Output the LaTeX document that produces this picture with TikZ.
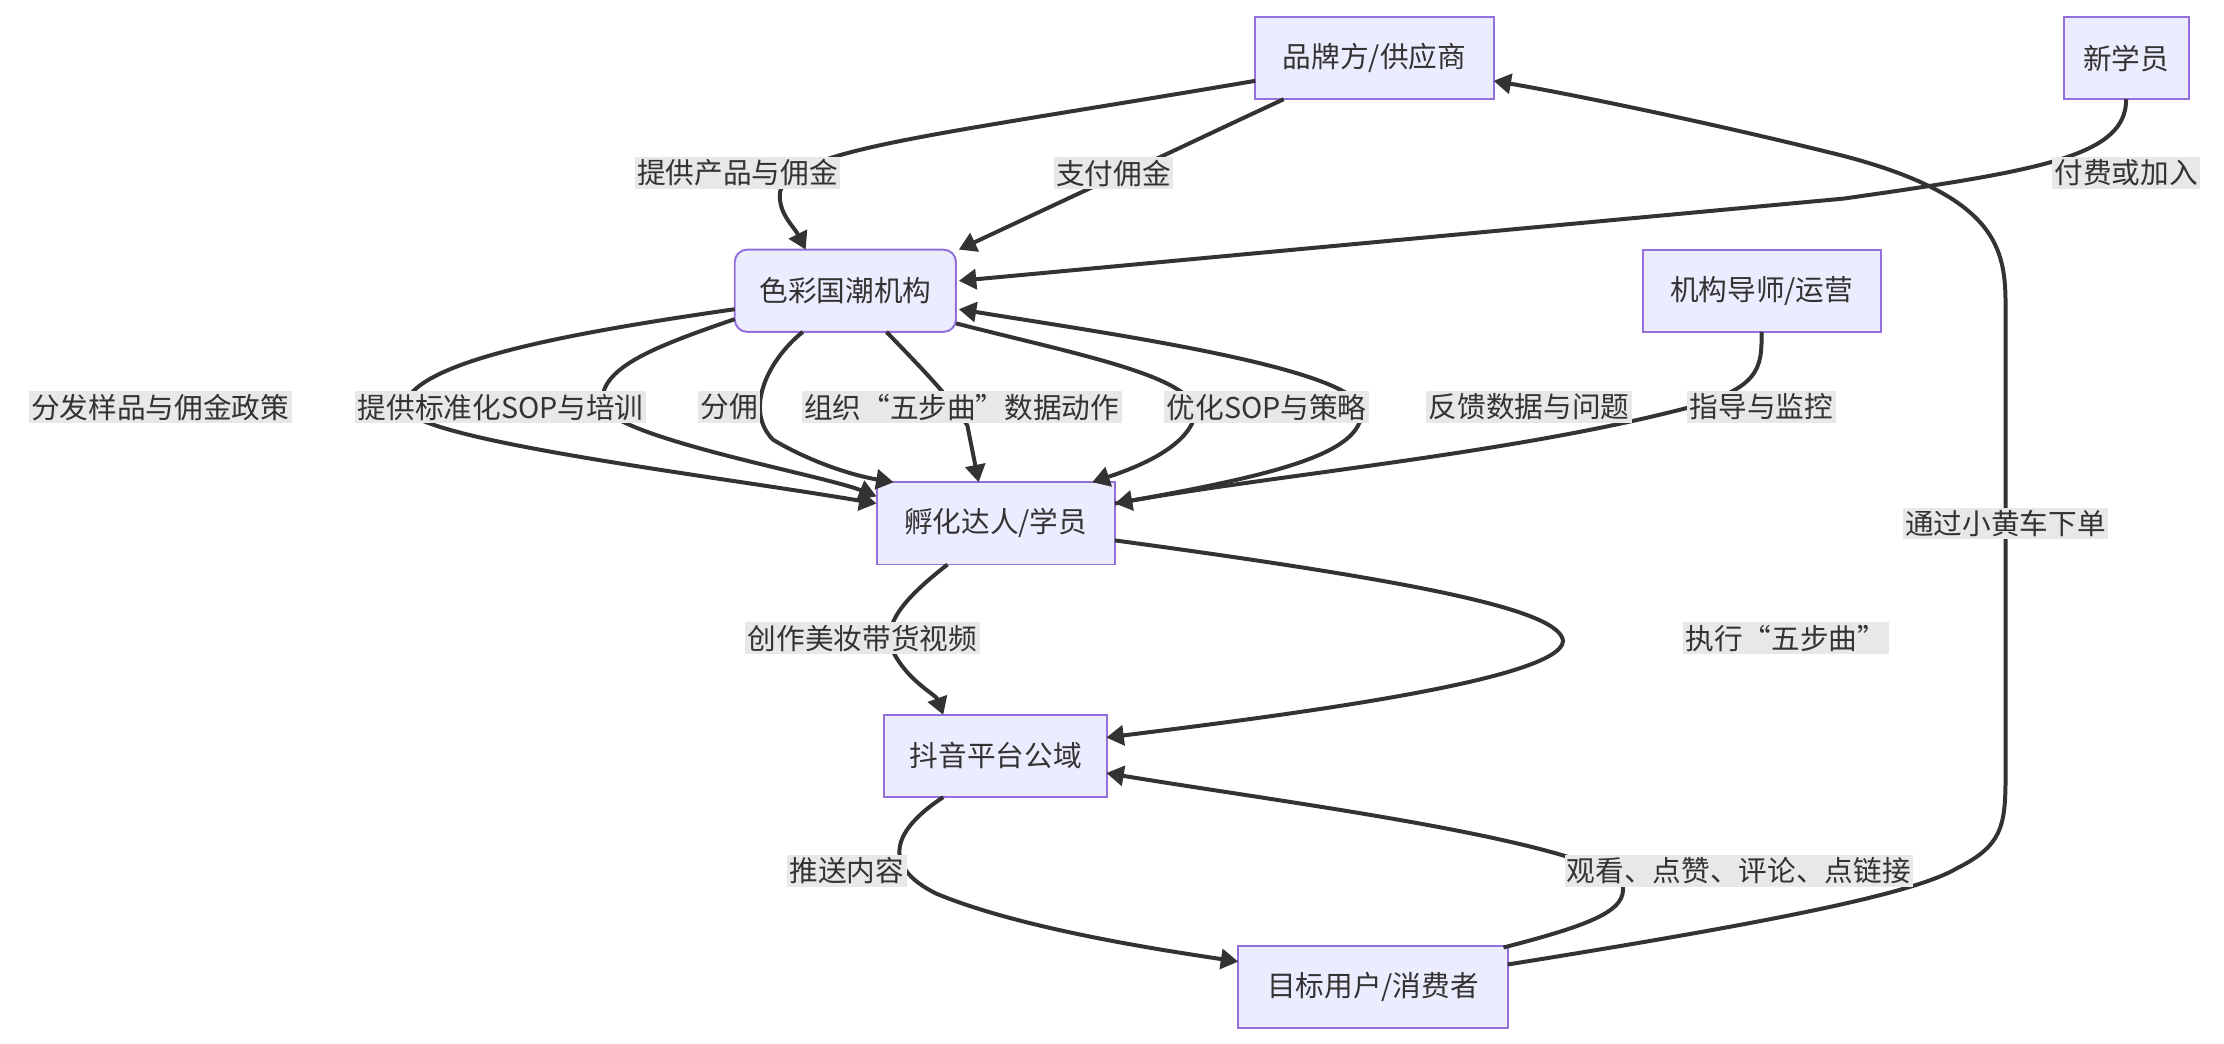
\documentclass[tikz,border=0pt]{standalone}
\usepackage{fontspec}
\setmainfont{Noto Sans CJK SC}
\usetikzlibrary{arrows.meta}
\definecolor{bx}{HTML}{ECECFF}
\definecolor{bd}{HTML}{9370DB}
\definecolor{ln}{HTML}{333333}
\definecolor{lb}{HTML}{E8E8E8}
\tikzset{
 box/.style={draw=bd,fill=bx,line width=0.8pt,minimum height=1.16cm,text=ln,font=\fontsize{11.5}{13}\selectfont,inner sep=0pt},
 e/.style={draw=ln,line width=1.6pt,-{Triangle[length=7pt,width=8pt]}},
 lbl/.style={fill=lb,text=ln,font=\fontsize{11.5}{13}\selectfont,inner sep=1pt}
}
\begin{document}
\begin{tikzpicture}[x=0.02cm,y=-0.02cm]
\useasboundingbox (0,0) rectangle (1568,736);
\node[box,minimum width=3.36cm] (brand) at (969,41) {品牌方/供应商};
\node[box,minimum width=1.76cm] (new) at (1499,41) {新学员};
\node[box,minimum width=3.12cm,rounded corners=5pt] (org) at (596,205) {色彩国潮机构};
\node[box,minimum width=3.36cm] (tut) at (1242,205) {机构导师/运营};
\node[box,minimum width=3.36cm] (stu) at (702,369) {孵化达人/学员};
\node[box,minimum width=3.14cm] (dy) at (702,533) {抖音平台公域};
\node[box,minimum width=3.8cm] (usr) at (968,696) {目标用户/消费者};
% edges
\draw[e] (885,57) .. controls (650,97) and (560,105) .. (550,135) .. controls (548,150) and (560,160) .. (568,176);
\draw[e] (905,70) .. controls (840,100) and (800,120) .. (785,125) -- (676,176);
\draw[e] (1499,70) .. controls (1499,110) and (1440,120) .. (1300,140) -- (676,198);
\draw[e] (518,218) .. controls (400,235) and (290,255) .. (285,287) .. controls (290,310) and (500,335) .. (618,355);
\draw[e] (518,225) .. controls (460,245) and (420,260) .. (425,287) .. controls (440,310) and (580,335) .. (618,350);
\draw[e] (566,234) .. controls (540,255) and (525,290) .. (545,310) .. controls (570,325) and (600,335) .. (630,340);
\draw[e] (625,234) .. controls (650,260) and (670,280) .. (682,300) -- (690,340);
\draw[e] (674,228) .. controls (760,250) and (840,265) .. (843,290) .. controls (840,315) and (800,330) .. (770,340);
\draw[e] (786,355) .. controls (900,335) and (960,320) .. (960,290) .. controls (960,260) and (780,235) .. (676,218);
\draw[e] (1242,234) .. controls (1242,260) and (1242,275) .. (1180,290) .. controls (1060,320) and (900,335) .. (786,355);
\draw[e] (668,398) .. controls (640,420) and (620,440) .. (630,460) .. controls (640,480) and (660,490) .. (665,504);
\draw[e] (786,381) .. controls (1000,410) and (1100,430) .. (1102,452) .. controls (1100,480) and (900,505) .. (780,520);
\draw[e] (665,562) .. controls (630,585) and (620,610) .. (660,630) .. controls (720,655) and (820,670) .. (873,678);
\draw[e] (1060,668) .. controls (1130,650) and (1150,640) .. (1143,620) .. controls (1100,590) and (900,565) .. (780,545);
\draw[e] (1063,680) .. controls (1250,650) and (1350,630) .. (1380,612) .. controls (1414,595) and (1414,580) .. (1414,540) -- (1414,220) .. controls (1414,180) and (1414,140) .. (1300,110) .. controls (1200,85) and (1100,65) .. (1053,57);
% labels
\node[lbl] (l1) at (520,122) {提供产品与佣金};
\node[lbl] (l2) at (785,122) {支付佣金};
\node[lbl] (l3) at (1499,122) {付费或加入};
\node[lbl] (l4) at (113,287) {分发样品与佣金政策};
\node[lbl] (l5) at (353,287) {提供标准化SOP与培训};
\node[lbl] (l6) at (514,287) {分佣};
\node[lbl] (l7) at (678,287) {组织“五步曲”数据动作};
\node[lbl] (l8) at (893,287) {优化SOP与策略};
\node[lbl] (l9) at (1078,287) {反馈数据与问题};
\node[lbl] (l10) at (1242,287) {指导与监控};
\node[lbl] (l11) at (1414,369) {通过小黄车下单};
\node[lbl] (l12) at (608,450) {创作美妆带货视频};
\node[lbl] (l13) at (1259,450) {执行“五步曲”};
\node[lbl] (l14) at (597,614) {推送内容};
\node[lbl] (l15) at (1226,614) {观看、点赞、评论、点链接};
\end{tikzpicture}
\end{document}
